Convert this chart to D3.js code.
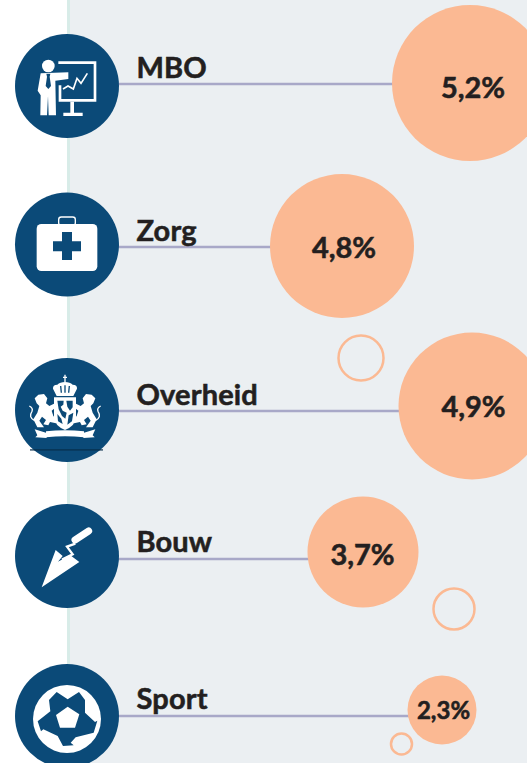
<!DOCTYPE html>
<html><head><meta charset="utf-8">
<script src="https://cdn.jsdelivr.net/npm/d3@7"></script>
<style>html,body{margin:0;padding:0;background:#fff;overflow:hidden}svg{display:block}text{font-family:Lato,sans-serif;font-weight:700;fill:#231f20;stroke:#231f20;stroke-width:.55px}</style>
</head><body><svg id="c" width="527" height="763"></svg>
<script>
const categories = ["MBO","Zorg","Overheid","Bouw","Sport"];
const values = [5.2,4.8,4.9,3.7,2.3];
const valueLabels = ["5,2%","4,8%","4,9%","3,7%","2,3%"];

const NAVY="#0b4a78", PEACH="#fbb993", LINE="#a8a8c8";
const layout = {
  MBO:{icon:86,line:84,label:78,bx:470,by:83,tx:473,ty:98,fs:29},
  Zorg:{icon:244.5,line:247,label:241,bx:342,by:246,tx:344,ty:258,fs:29},
  Overheid:{icon:410,line:411,label:405,bx:472,by:406,tx:473.5,ty:417,fs:29},
  Bouw:{icon:556,line:559,label:552,bx:363,by:552,tx:362.5,ty:565,fs:29},
  Sport:{icon:716,line:716,label:709,bx:442,by:710,tx:443.5,ty:719,fs:24}
};
const rings=[[361,358,22.5],[454,609,20.5],[401.5,744,10.5]];

const svg=d3.select("#c");
const r=d3.scaleLinear().domain([0,5.2]).range([0,78]);
svg.append("rect").attr("x",68).attr("y",0).attr("width",459).attr("height",763).attr("fill","#ebeff2");
svg.append("rect").attr("x",67).attr("y",0).attr("width",3).attr("height",763).attr("fill","#d8ece8");

svg.selectAll("circle.ring").data(rings).join("circle").attr("class","ring")
 .attr("cx",d=>d[0]).attr("cy",d=>d[1]).attr("r",d=>d[2]).attr("fill","none").attr("stroke",PEACH).attr("stroke-width",2.5);

const rows=svg.selectAll("g.row").data(categories).join("g").attr("class","row");
rows.append("line").attr("x1",110).attr("x2",d=>layout[d].bx-10).attr("y1",d=>layout[d].line).attr("y2",d=>layout[d].line).attr("stroke",LINE).attr("stroke-width",2.5);
rows.append("circle").attr("cx",d=>layout[d].bx).attr("cy",d=>layout[d].by).attr("r",(d,i)=>r(values[i])).attr("fill",PEACH);
rows.append("text").attr("x",136.5).attr("y",d=>layout[d].label).attr("font-size",29).attr("letter-spacing",.15).text(d=>d);
rows.append("text").attr("x",d=>layout[d].tx).attr("y",d=>layout[d].ty).attr("text-anchor","middle").attr("font-size",d=>layout[d].fs).text((d,i)=>valueLabels[i]);
rows.append("circle").attr("cx",67).attr("cy",d=>layout[d].icon).attr("r",52).attr("fill",NAVY);

// icons drawn in a 3x local space around the badge centre
function icon(cy){return svg.append("g").attr("transform",`translate(67,${cy}) scale(${1/3}) translate(-201,-198)`);}
const W="#fff";
// MBO
let g=icon(86);
g.append("circle").attr("cx",145).attr("cy",138).attr("r",19).attr("fill",W);
g.append("path").attr("fill",W).attr("d","M122,160 L205,157 L205,177 L166,182 L168,286 L146,286 L144,228 L141,286 L121,286 L122,226 L113,212 Z");
g.append("path").attr("fill",NAVY).attr("d","M139,161 L151,161 L149,170 L153,198 L145,207 L137,198 L141,170 Z");
g.append("path").attr("fill","none").attr("stroke",W).attr("stroke-width",8).attr("d","M175,128 H285 V241 H180 V196");
g.append("path").attr("fill","none").attr("stroke",W).attr("stroke-width",5).attr("d","M189,207 L204,198 L220,207 L231,175 L243,190 L262,160");
g.append("path").attr("fill",W).attr("d","M211,245 H222 V278 H248 V288 H190 V278 H211 Z");
// Zorg
g=icon(244.5);
g.append("g").attr("transform","translate(0,4.5)").call(s=>{
 s.append("rect").attr("x",110).attr("y",132).attr("width",182).attr("height",141).attr("rx",14).attr("fill",W);
 s.append("rect").attr("x",176).attr("y",111).attr("width",50).attr("height",26).attr("rx",8).attr("fill","none").attr("stroke",W).attr("stroke-width",4);
 s.append("path").attr("fill",NAVY).attr("d","M186,156 H216 V184 H243 V214 H216 V240 H186 V214 H159 V184 H186 Z");
});
// Overheid
g=icon(410).append("g").attr("transform","translate(60,78)");
g.append("path").attr("fill","none").attr("stroke",W).attr("stroke-width",4).attr("d","M135,14 V36 M129,22 H141");
g.append("path").attr("fill",W).attr("d","M135,36 Q150,36 158,44 Q172,44 171,56 L160,78 H110 L99,56 Q98,44 112,44 Q120,36 135,36 Z");
g.append("path").attr("fill",NAVY).attr("d","M120,48 L124,48 L126,68 L122,68 Z M133,46 H137 V68 H133 Z M146,48 L150,48 L148,68 L144,68 Z");
g.append("path").attr("fill",W).attr("d","M102,82 H168 V142 Q166,168 135,180 Q104,168 102,142 Z");
g.append("path").attr("fill",NAVY).attr("d","M112,92 H131 L130,104 L122,110 L128,122 L140,128 L136,146 L126,138 L116,118 Z M139,92 H158 V112 L150,122 L142,110 Z M146,136 L160,128 L156,154 L142,164 Z M112,132 L124,146 L128,162 L114,154 Z");
const lion="M44,85 L55,74 L72,72 L82,85 L78,100 L88,108 L105,100 L108,112 L95,122 L100,138 L112,150 L108,160 L90,156 L85,166 L70,163 L78,150 L66,140 L58,152 L72,172 L52,172 L40,148 L52,128 L58,108 L50,100 Z";
const tail="M44,152 Q24,142 36,124 Q40,114 28,108";
const twoSides=(fn)=>{fn(g);fn(g.append("g").attr("transform","translate(270,0) scale(-1,1)"));};
twoSides(s=>{
 s.append("path").attr("fill",W).attr("d",lion);
 s.append("path").attr("fill","none").attr("stroke",W).attr("stroke-width",4).attr("d",tail);
 s.append("path").attr("fill",W).attr("d","M78,188 L44,178 L52,196 L46,202 L80,204 Z");
});
g.append("path").attr("fill",W).attr("d","M78,184 Q135,178 192,184 L192,202 Q135,196 78,202 Z");
g.append("rect").attr("x",30).attr("y",238).attr("width",219).attr("height",3.5).attr("fill","#072d4a");
// Bouw
g=icon(556).append("g").attr("transform","translate(0,15)");
g.append("path").attr("fill",W).attr("d","M125,277 L167,165 L188,183 L174,200 L210,180 L238,201 Z");
g.append("path").attr("fill","none").attr("stroke",W).attr("stroke-width",7).attr("d","M226,146 L201,155 L218,178 L186,194");
g.append("path").attr("fill","none").attr("stroke",W).attr("stroke-width",21).attr("stroke-linecap","round").attr("d","M225,135 L266,108");
// Sport
g=icon(716);
g.append("circle").attr("cx",201).attr("cy",207).attr("r",102).attr("fill",W);
g=g.append("g").attr("transform","translate(75,88)");
g.append("path").attr("fill",NAVY).attr("d","M95,38 L128,60 L162,38 L180,62 L180,100 L210,128 L217,124 L206,160 L152,174 L137,190 L146,198 L114,200 L98,170 L55,150 L48,156 L38,126 L76,96 L72,62 Z");
g.append("path").attr("fill",W).attr("d","M128,82 L163,105 L150,145 L105,145 L93,107 Z");
</script></body></html>
